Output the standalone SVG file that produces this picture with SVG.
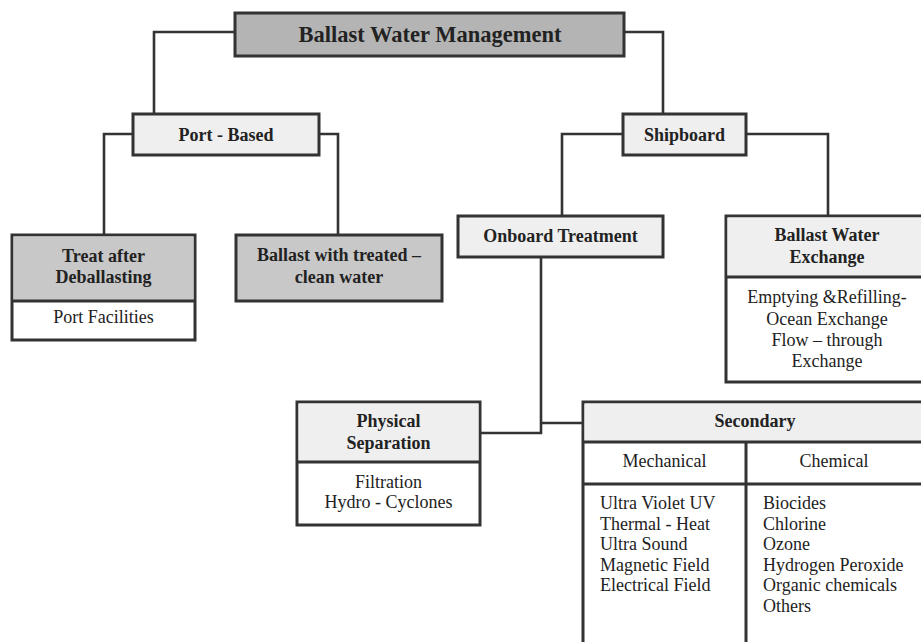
<svg xmlns="http://www.w3.org/2000/svg" width="921" height="642" viewBox="0 0 921 642">
  <style>
    .box { stroke: #333; stroke-width: 3; }
    .dark { fill: #b4b4b4; }
    .mid { fill: #c8c8c8; }
    .light { fill: #efefef; }
    .white { fill: #ffffff; }
    .div { stroke: #333; stroke-width: 3; fill: none; }
    .conn { stroke: #333; stroke-width: 2.6; fill: none; }
    text { font-family: "Liberation Serif", "Times New Roman", serif; fill: #222; }
    .b { font-weight: bold; font-size: 18px; text-anchor: middle; }
    .r { font-size: 18px; text-anchor: middle; }
    .l { font-size: 18px; }
    .title { font-weight: bold; font-size: 22.5px; text-anchor: middle; }
  </style>
  <rect width="921" height="642" fill="#ffffff"/>

  <g id="connectors">
    <path class="conn" d="M235 32 H154 V114"/>
    <path class="conn" d="M624 32 H663 V114"/>
    <path class="conn" d="M133 134 H104 V235"/>
    <path class="conn" d="M319 134 H338 V235"/>
    <path class="conn" d="M623 134 H562 V216"/>
    <path class="conn" d="M746 134 H828 V216"/>
    <path class="conn" d="M541 257 V433 H480"/>
    <path class="conn" d="M541 423 H583"/>
  </g>

  <g id="ballast-water-management">
    <rect class="box dark" x="235" y="13" width="389" height="43"/>
    <text class="title" x="430" y="42">Ballast Water Management</text>
  </g>

  <g id="port-based">
    <rect class="box light" x="133" y="114" width="186" height="41"/>
    <text class="b" x="226" y="141">Port - Based</text>
  </g>

  <g id="shipboard">
    <rect class="box light" x="623" y="114" width="123" height="41"/>
    <text class="b" x="684.5" y="141">Shipboard</text>
  </g>

  <g id="treat-after-deballasting">
    <rect class="box white" x="12" y="235" width="183" height="105"/>
    <rect class="mid" x="13.5" y="236.5" width="180" height="64"/>
    <path class="div" d="M12 301 H195"/>
    <text class="b" x="103.5" y="262">Treat after</text>
    <text class="b" x="103.5" y="283">Deballasting</text>
    <text class="r" x="103.5" y="323">Port Facilities</text>
  </g>

  <g id="ballast-with-treated">
    <rect class="box mid" x="236" y="235" width="206" height="66"/>
    <text class="b" x="339" y="261">Ballast with treated –</text>
    <text class="b" x="339" y="283">clean water</text>
  </g>

  <g id="onboard-treatment">
    <rect class="box light" x="458" y="216" width="205" height="41"/>
    <text class="b" x="560.5" y="242">Onboard Treatment</text>
  </g>

  <g id="ballast-water-exchange">
    <rect class="box white" x="726" y="216" width="204" height="166"/>
    <rect class="light" x="727.5" y="217.5" width="201" height="59"/>
    <path class="div" d="M726 277 H930"/>
    <text class="b" x="827" y="241">Ballast Water</text>
    <text class="b" x="827" y="263">Exchange</text>
    <text class="r" x="827" y="303">Emptying &amp;Refilling-</text>
    <text class="r" x="827" y="325">Ocean Exchange</text>
    <text class="r" x="827" y="346">Flow – through</text>
    <text class="r" x="827" y="367">Exchange</text>
  </g>

  <g id="physical-separation">
    <rect class="box white" x="297" y="402" width="183" height="123"/>
    <rect class="light" x="298.5" y="403.5" width="180" height="58"/>
    <path class="div" d="M297 462 H480"/>
    <text class="b" x="388.5" y="427">Physical</text>
    <text class="b" x="388.5" y="449">Separation</text>
    <text class="r" x="388.5" y="488">Filtration</text>
    <text class="r" x="388.5" y="508">Hydro - Cyclones</text>
  </g>

  <g id="secondary">
    <rect class="box white" x="583" y="402" width="347" height="260"/>
    <rect class="light" x="584.5" y="403.5" width="344" height="38"/>
    <path class="div" d="M583 442 H930"/>
    <path class="div" d="M583 484 H930"/>
    <path class="div" d="M746 442 V662"/>
    <text class="b" x="755" y="427">Secondary</text>
    <text class="r" x="664.5" y="467">Mechanical</text>
    <text class="r" x="834" y="467">Chemical</text>
    <text class="l" x="600" y="509">Ultra Violet UV</text>
    <text class="l" x="600" y="530">Thermal - Heat</text>
    <text class="l" x="600" y="550">Ultra Sound</text>
    <text class="l" x="600" y="571">Magnetic Field</text>
    <text class="l" x="600" y="591">Electrical Field</text>
    <text class="l" x="763" y="509">Biocides</text>
    <text class="l" x="763" y="530">Chlorine</text>
    <text class="l" x="763" y="550">Ozone</text>
    <text class="l" x="763" y="571">Hydrogen Peroxide</text>
    <text class="l" x="763" y="591">Organic chemicals</text>
    <text class="l" x="763" y="612">Others</text>
  </g>
</svg>
